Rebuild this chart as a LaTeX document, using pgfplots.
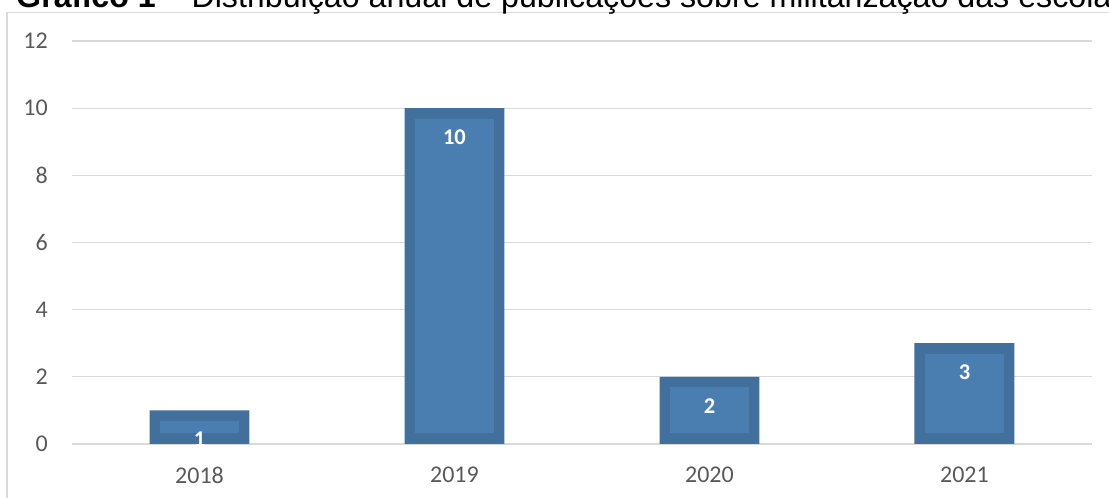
\documentclass[border=0pt]{standalone}
\usepackage{fontspec}
\setmainfont{Carlito}
\newfontfamily\arialfont{Liberation Sans}
\usepackage{pgfplots}
\pgfplotsset{compat=1.18}

\definecolor{barout}{HTML}{41709C}
\definecolor{barin}{HTML}{4A7EB1}
\definecolor{gridc}{HTML}{D9D9D9}
\definecolor{tickc}{HTML}{595959}

% lighter inner part of a bar: a thick comb, shortened at both ends
\pgfplotsset{innerbar/.style={
  ycomb, draw=barin, line width=79pt, line cap=butt, mark=none,
  shorten <=10.5pt, shorten >=10.5pt,
}}

\begin{document}
\begin{tikzpicture}
% frame of the chart area
\draw[gridc, line width=1.3pt] (7pt,-5pt) -- (7pt,485.5pt) -- (1120pt,485.5pt);
\node[anchor=base west, inner sep=0pt, font=\arialfont\fontsize{32.2}{36}\selectfont]
  at (16pt,490pt) {\textbf{Gráfico 1} – Distribuição anual de publicações sobre militarização das escolas};

\begin{axis}[
  at={(72pt,54pt)}, anchor=south west,
  scale only axis, width=1020pt, height=403pt,
  xmin=-0.5, xmax=3.5, ymin=0, ymax=12,
  ytick={0,2,...,12},
  xtick={0,1,2,3}, xticklabels={2018,2019,2020,2021},
  axis line style={draw=none}, major tick length=0pt,
  ymajorgrids, grid style={gridc, line width=1.3pt},
  tick label style={font=\fontsize{24}{28}\selectfont, text=tickc, inner sep=0pt},
  /pgf/number format/assume math mode=true,
  yticklabel style={anchor=east, xshift=-24pt},
  xticklabel style={anchor=north, yshift=-23pt},
]
% outer (darker) bars
\addplot[ybar, bar shift=0pt, bar width=0.392, fill=barout, draw=none]
  coordinates {(0,1) (1,10) (2,2) (3,3)};
% inner (lighter) parts, one per bar
\addplot[innerbar] coordinates {(0,1)};
\addplot[innerbar] coordinates {(1,10)};
\addplot[innerbar] coordinates {(2,2)};
\addplot[innerbar] coordinates {(3,3)};
% value labels
\addplot[ybar, bar shift=0pt, bar width=0.392, draw=none, fill=none,
  nodes near coords,
  every node near coord/.append style={font=\fontsize{22.5}{26}\selectfont\bfseries,
    text=white, anchor=center, yshift=-29pt}]
  coordinates {(0,1) (1,10) (2,2) (3,3)};
\end{axis}

\pgfresetboundingbox
\path[use as bounding box] (0,0) rectangle (1109pt,498pt);
\end{tikzpicture}
\end{document}
